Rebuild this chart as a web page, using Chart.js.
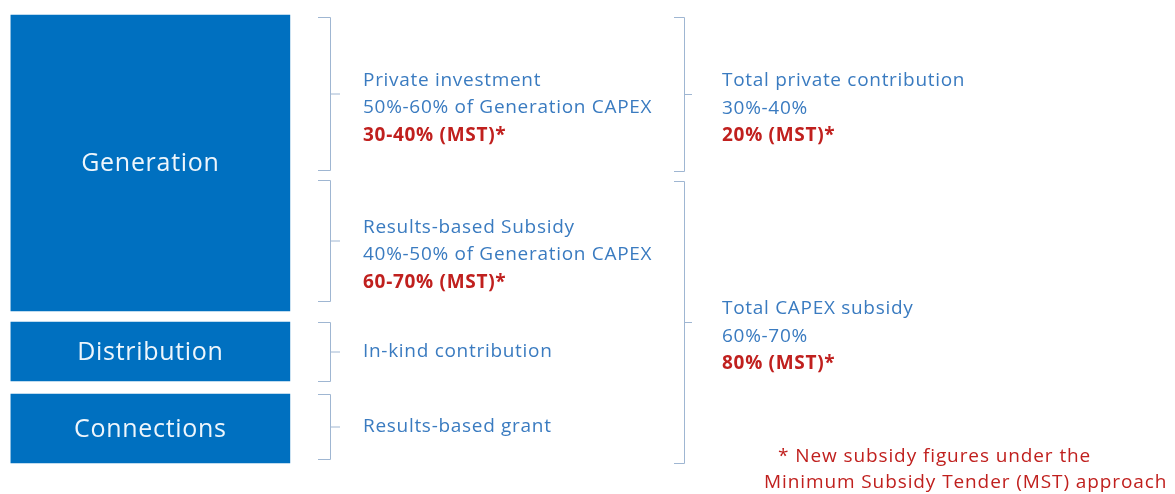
<!DOCTYPE html>
<html>
<head>
<meta charset="utf-8">
<script src="https://cdn.jsdelivr.net/npm/chart.js@4.4.0/dist/chart.umd.min.js"></script>
<style>
  html, body { margin: 0; padding: 0; background: #fff; }
  #wrap { width: 1175px; height: 494px; }
</style>
</head>
<body>
<div id="wrap"><canvas id="chart"></canvas></div>
<script>
// cost blocks, in diagram units (0 = top, 494 = bottom)
const blocks = ["Generation", "Distribution", "Connections"];
const blockStart = [15, 322, 394];
const blockEnd = [311, 381, 463];

// first column of braces and what they say
const innerSpans = [[17, 170], [180, 301], [322, 381], [394, 459]];
const innerText = [
  ["Private investment", "50%-60% of Generation CAPEX", "30-40% (MST)*"],
  ["Results-based Subsidy", "40%-50% of Generation CAPEX", "60-70% (MST)*"],
  ["In-kind contribution"],
  ["Results-based grant"],
];

// second column of braces
const outerSpans = [[17, 171], [181, 463]];
const outerText = [
  ["Total private contribution", "30%-40%", "20% (MST)*"],
  ["Total CAPEX subsidy", "60%-70%", "80% (MST)*"],
];

const footnote = ["* New subsidy figures under the", "Minimum Subsidy Tender (MST) approach"];

const BLUE_BOX = "#0070c0";
const BLUE_TEXT = "#3a7bc0";
const RED = "#c0201e";
const BRACE = "#9fb6d2";
const FONT = "'Open Sans', sans-serif";

// where the brace columns and their text sit (x in the annotation axis)
const innerCol = { line: 330, hook: 318, tick: 340, text: 363 };
const outerCol = { line: 684, hook: 674, tick: 692, text: 722 };

function drawBrace(ctx, xs, ys, col, span) {
  const x = xs.getPixelForValue(col.line);
  const xh = xs.getPixelForValue(col.hook);
  const xt = xs.getPixelForValue(col.tick);
  const y0 = ys.getPixelForValue(span[0]);
  const y1 = ys.getPixelForValue(span[1]);
  const ym = ys.getPixelForValue((span[0] + span[1]) / 2);
  ctx.beginPath();
  ctx.moveTo(xh, y0 + 0.5);
  ctx.lineTo(x + 0.5, y0 + 0.5);
  ctx.lineTo(x + 0.5, y1 + 0.5);
  ctx.lineTo(xh, y1 + 0.5);
  ctx.moveTo(x, ym + 0.5);
  ctx.lineTo(xt, ym + 0.5);
  ctx.stroke();
}

function drawLines(ctx, xs, ys, col, span, lines) {
  const mid = (span[0] + span[1]) / 2;
  const first = lines.length > 1 ? mid - 13 : mid;
  lines.forEach((line, i) => {
    const isMst = lines.length > 1 && i === lines.length - 1;
    ctx.fillStyle = isMst ? RED : BLUE_TEXT;
    ctx.font = (isMst ? "bold " : "") + "19px " + FONT;
    ctx.fillText(line, xs.getPixelForValue(col.text), ys.getPixelForValue(first + i * 27.5));
  });
}

const labelsPlugin = {
  id: "diagramText",
  afterDatasetsDraw(chart) {
    const ctx = chart.ctx;
    const xs = chart.scales.ax;
    const ys = chart.scales.y;
    ctx.save();
    ctx.letterSpacing = "0.7px";

    // block names inside the boxes
    ctx.fillStyle = "#eef6fc";
    ctx.font = "25px " + FONT;
    ctx.textAlign = "center";
    ctx.textBaseline = "middle";
    blocks.forEach((name, i) => {
      const bar = chart.getDatasetMeta(i).data[0];
      ctx.fillText(name, bar.x, (bar.y + bar.base) / 2 + 1);
    });

    // braces
    ctx.strokeStyle = BRACE;
    ctx.lineWidth = 1;
    innerSpans.forEach((s) => drawBrace(ctx, xs, ys, innerCol, s));
    outerSpans.forEach((s) => drawBrace(ctx, xs, ys, outerCol, s));

    ctx.textAlign = "left";
    innerSpans.forEach((s, i) => drawLines(ctx, xs, ys, innerCol, s, innerText[i]));
    outerSpans.forEach((s, i) => drawLines(ctx, xs, ys, outerCol, s, outerText[i]));

    // footnote
    ctx.letterSpacing = "0.9px";
    ctx.fillStyle = RED;
    ctx.font = "19px " + FONT;
    ctx.fillText(footnote[0], xs.getPixelForValue(778), ys.getPixelForValue(457));
    ctx.fillText(footnote[1], xs.getPixelForValue(764), ys.getPixelForValue(483));
    ctx.restore();
  },
};

new Chart(document.getElementById("chart"), {
  type: "bar",
  data: {
    labels: ["costs", "", " ", "  "],
    datasets: blocks.map((name, i) => ({
      label: name,
      data: [[blockStart[i], blockEnd[i]]],
      backgroundColor: BLUE_BOX,
      borderWidth: 0,
      borderSkipped: false,
      barThickness: 279,
    })),
  },
  options: {
    responsive: true,
    maintainAspectRatio: false,
    animation: false,
    layout: { padding: { left: 4, right: 0, top: 0, bottom: 0 } },
    plugins: { legend: { display: false }, tooltip: { enabled: false } },
    scales: {
      x: { stacked: true, display: false },
      y: { display: false, min: 0, max: 494, reverse: true },
      ax: { type: "linear", axis: "x", display: false, offset: false, min: 4, max: 1175 },
    },
  },
  plugins: [labelsPlugin],
});
</script>
</body>
</html>
